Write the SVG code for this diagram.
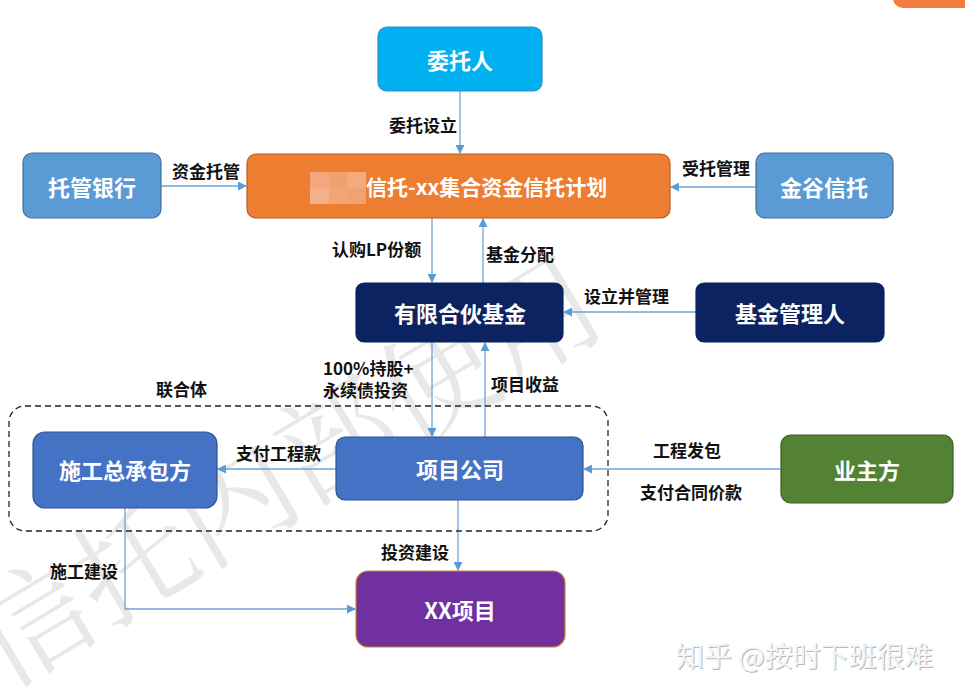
<svg xmlns="http://www.w3.org/2000/svg" width="965" height="697" viewBox="0 0 965 697">
<defs>
<style>
.box{stroke-width:1.2}
.nt{font-family:"Noto Sans CJK SC","Liberation Sans",sans-serif;font-weight:bold;font-size:22px;fill:#fff;text-anchor:middle;dominant-baseline:central}
.lb{font-family:"Noto Sans CJK SC","Liberation Sans",sans-serif;font-weight:bold;font-size:17px;fill:#111;dominant-baseline:central}
.cn{fill:none;stroke:#6FA3D8;stroke-width:1.3}
.wm{font-family:"Noto Serif CJK SC","Noto Sans CJK SC",serif;font-size:118px;fill:#e8e8e8}
</style>
<marker id="ah" viewBox="0 0 10 10" refX="9" refY="5" markerWidth="9" markerHeight="9" markerUnits="userSpaceOnUse" orient="auto">
<path d="M0,0 L10,5 L0,10 z" fill="#5B9BD5"/>
</marker>
</defs>
<rect width="965" height="697" fill="#fff"/>
<text class="wm" transform="translate(4,690) rotate(-31)">信托内部使用</text>
<rect x="893" y="-14" width="90" height="22" rx="10" fill="#F47B3F"/>

<g id="connectors">
<line class="cn" x1="460" y1="91" x2="460" y2="153" marker-end="url(#ah)"/>
<line class="cn" x1="161" y1="186" x2="246" y2="186" marker-end="url(#ah)"/>
<line class="cn" x1="756" y1="187" x2="671" y2="187" marker-end="url(#ah)"/>
<line class="cn" x1="432" y1="218" x2="432" y2="282" marker-end="url(#ah)"/>
<line class="cn" x1="483" y1="283" x2="483" y2="219" marker-end="url(#ah)"/>
<line class="cn" x1="696" y1="312" x2="564" y2="312" marker-end="url(#ah)"/>
<line class="cn" x1="432" y1="342" x2="432" y2="436" marker-end="url(#ah)"/>
<line class="cn" x1="485" y1="437" x2="485" y2="343" marker-end="url(#ah)"/>
<line class="cn" x1="336" y1="469" x2="218" y2="469" marker-end="url(#ah)"/>
<line class="cn" x1="781" y1="469" x2="584" y2="469" marker-end="url(#ah)"/>
<line class="cn" x1="458" y1="500" x2="458" y2="570" marker-end="url(#ah)"/>
<polyline class="cn" points="125,508 125,609 355,609" marker-end="url(#ah)"/>
<rect x="9" y="406" width="599" height="125" rx="16" fill="none" stroke="#222" stroke-width="1.3" stroke-dasharray="6,4"/>
</g>

<g id="labels">
<text class="lb" x="389" y="124">委托设立</text>
<text class="lb" x="172" y="170">资金托管</text>
<text class="lb" x="682" y="167">受托管理</text>
<text class="lb" x="332" y="248">认购LP份额</text>
<text class="lb" x="486" y="253">基金分配</text>
<text class="lb" x="584" y="295">设立并管理</text>
<text class="lb" x="323" y="367">100%持股+</text>
<text class="lb" x="323" y="389">永续债投资</text>
<text class="lb" x="491" y="383">项目收益</text>
<text class="lb" x="156" y="388">联合体</text>
<text class="lb" x="236" y="452">支付工程款</text>
<text class="lb" x="653" y="449">工程发包</text>
<text class="lb" x="640" y="491">支付合同价款</text>
<text class="lb" x="381" y="551">投资建设</text>
<text class="lb" x="50" y="570">施工建设</text>
</g>

<g id="n-weituoren">
<rect class="box" x="378" y="27" width="164" height="64" rx="9" fill="#00B0F0" stroke="#2E8CC0"/>
<text class="nt" x="460" y="59">委托人</text>
</g>
<g id="n-trust">
<rect class="box" x="247" y="154" width="423" height="64" rx="9" fill="#ED7D31" stroke="#B85E20"/>
<rect x="310" y="172" width="19" height="16" fill="#F3A77A"/>
<rect x="329" y="172" width="18" height="16" fill="#F1A070"/>
<rect x="347" y="172" width="19" height="16" fill="#F2AA7E"/>
<rect x="310" y="188" width="19" height="16" fill="#F4B088"/>
<rect x="329" y="188" width="18" height="16" fill="#F2A676"/>
<rect x="347" y="188" width="19" height="16" fill="#F1A272"/>
<text class="nt" x="366" y="186" style="text-anchor:start;font-size:21px">信托-xx集合资金信托计划</text>
</g>
<g id="n-bank">
<rect class="box" x="23" y="153" width="138" height="65" rx="9" fill="#5B9BD5" stroke="#41719C"/>
<text class="nt" x="92" y="186">托管银行</text>
</g>
<g id="n-jingu">
<rect class="box" x="756" y="153" width="137" height="65" rx="9" fill="#5B9BD5" stroke="#41719C"/>
<text class="nt" x="824" y="186">金谷信托</text>
</g>
<g id="n-fund">
<rect class="box" x="356" y="283" width="207" height="59" rx="8" fill="#0B2461" stroke="#0B2461"/>
<text class="nt" x="460" y="312">有限合伙基金</text>
</g>
<g id="n-gp">
<rect class="box" x="696" y="283" width="188" height="59" rx="8" fill="#0B2461" stroke="#0B2461"/>
<text class="nt" x="790" y="312">基金管理人</text>
</g>
<g id="n-epc">
<rect class="box" x="33" y="432" width="184" height="76" rx="12" fill="#4472C4" stroke="#2F528F"/>
<text class="nt" x="125" y="469">施工总承包方</text>
</g>
<g id="n-spv">
<rect class="box" x="336" y="437" width="247" height="63" rx="9" fill="#4472C4" stroke="#2F528F"/>
<text class="nt" x="460" y="468">项目公司</text>
</g>
<g id="n-owner">
<rect class="box" x="781" y="435" width="172" height="68" rx="10" fill="#548235" stroke="#3B5E24"/>
<text class="nt" x="867" y="469">业主方</text>
</g>
<g id="n-project">
<rect class="box" x="356" y="571" width="209" height="76" rx="12" fill="#7030A0" stroke="#C5862B"/>
<text class="nt" x="460" y="609">XX项目</text>
</g>

<g id="watermark">
<text x="677" y="668" font-family="Noto Sans CJK SC,sans-serif" font-size="28" fill="#b8b8b8">知乎 @按时下班很难</text>
<text x="676" y="667" font-family="Noto Sans CJK SC,sans-serif" font-size="28" fill="#f4f4f4">知乎 @按时下班很难</text>
</g>
</svg>
